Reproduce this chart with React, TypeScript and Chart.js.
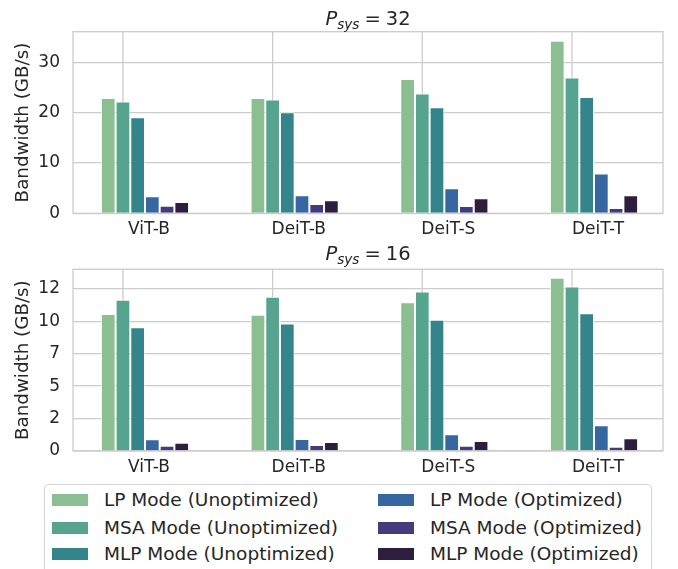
import React, { useEffect, useRef } from 'react';
import { Chart, registerables } from 'chart.js';

Chart.register(...registerables);

const categories = ['ViT-B', 'DeiT-B', 'DeiT-S', 'DeiT-T'];
const seriesNames = [
  'LP Mode (Unoptimized)',
  'MSA Mode (Unoptimized)',
  'MLP Mode (Unoptimized)',
  'LP Mode (Optimized)',
  'MSA Mode (Optimized)',
  'MLP Mode (Optimized)',
];
const seriesColors = ['#8bbe91', '#56a48f', '#33858b', '#3767a0', '#423c7d', '#2d1e3e'];

// P_sys = 32
const lpUnopt32 = [22.9, 22.9, 26.7, 34.3];
const msaUnopt32 = [22.2, 22.6, 23.8, 27.0];
const mlpUnopt32 = [19.1, 20.1, 21.1, 23.1];
const lpOpt32 = [3.4, 3.6, 5.0, 7.9];
const msaOpt32 = [1.5, 1.85, 1.45, 1.05];
const mlpOpt32 = [2.25, 2.6, 3.0, 3.6];

// P_sys = 16
const lpUnopt16 = [10.55, 10.49, 11.47, 13.35];
const msaUnopt16 = [11.65, 11.88, 12.29, 12.68];
const mlpUnopt16 = [9.54, 9.82, 10.11, 10.62];
const lpOpt16 = [0.9, 0.93, 1.29, 1.98];
const msaOpt16 = [0.41, 0.46, 0.41, 0.33];
const mlpOpt16 = [0.64, 0.69, 0.77, 0.98];

const tickValues32 = [0, 10, 20, 30];
const tickLabels32 = ['0', '10', '20', '30'];
const tickValues16 = [0, 2.5, 5, 7.5, 10, 12.5];
const tickLabels16 = ['0', '2', '5', '7', '10', '12'];

const FONT = '"DejaVu Sans", sans-serif';
const TEXT = '#262626';
const GRID = '#cccccc';

const framePlugin = {
  id: 'frameAndVGrid',
  beforeDatasetsDraw(chart: any) {
    const { ctx, chartArea } = chart;
    ctx.save();
    ctx.strokeStyle = GRID;
    ctx.lineWidth = 1.3;
    const meta = chart.getDatasetMeta(1);
    meta.data.forEach((bar: any) => {
      ctx.beginPath();
      ctx.moveTo(bar.x, chartArea.top);
      ctx.lineTo(bar.x, chartArea.bottom);
      ctx.stroke();
    });
    ctx.strokeRect(chartArea.left, chartArea.top, chartArea.right - chartArea.left, chartArea.bottom - chartArea.top);
    ctx.restore();
  },
};

type SubProps = {
  top: number;
  height: number;
  padTop: number;
  xAxisH: number;
  titleTop: number;
  titleValue: string;
  series: number[][];
  yMax: number;
  tickValues: number[];
  tickLabels: string[];
};

function SubChart(p: SubProps) {
  const ref = useRef<HTMLCanvasElement | null>(null);
  useEffect(() => {
    if (!ref.current) return;
    const chart = new Chart(ref.current, {
      type: 'bar',
      data: {
        datasets: p.series.map((vals, k) => ({
          label: seriesNames[k],
          data: vals.map((v, i) => ({ x: i, y: v })),
          backgroundColor: seriesColors[k],
          borderColor: 'rgba(255,255,255,0.8)',
          borderWidth: 1,
          categoryPercentage: 0.589,
          barPercentage: 1,
        })),
      },
      options: {
        responsive: false,
        animation: false,
        devicePixelRatio: 1,
        layout: { padding: { top: p.padTop, right: 15, left: 0, bottom: 0 } },
        plugins: { legend: { display: false }, tooltip: { enabled: false }, title: { display: false } },
        scales: {
          x: {
            type: 'linear',
            offset: false,
            min: -0.481,
            max: 3.461,
            grid: { display: false, drawTicks: false, offset: false },
            border: { display: false },
            afterBuildTicks: (s: any) => {
              s.ticks = categories.map((_, i) => ({ value: i + 0.027 }));
            },
            afterFit: (s: any) => {
              s.height = p.xAxisH;
            },
            ticks: {
              autoSkip: false,
              maxRotation: 0,
              padding: 6.5,
              color: TEXT,
              font: { family: FONT, size: 17 },
              callback: (v: any) => categories[Math.round(v as number)],
            },
          },
          y: {
            type: 'linear',
            min: 0,
            max: p.yMax,
            grid: { color: GRID, lineWidth: 1.3, drawTicks: false },
            border: { display: false },
            afterBuildTicks: (s: any) => {
              s.ticks = p.tickValues.map((v) => ({ value: v }));
            },
            afterFit: (s: any) => {
              s.width = 73;
            },
            ticks: {
              padding: 13,
              color: TEXT,
              font: { family: FONT, size: 17 },
              callback: (v: any) => {
                const idx = p.tickValues.indexOf(v as number);
                return idx >= 0 ? p.tickLabels[idx] : '';
              },
            },
            title: {
              display: true,
              text: 'Bandwidth (GB/s)',
              color: TEXT,
              font: { family: FONT, size: 18.3 },
              padding: { top: 12, bottom: 0 },
            },
          },
        },
      } as any,
      plugins: [framePlugin],
    });
    return () => chart.destroy();
  }, []);
  return (
    <>
      <canvas
        ref={ref}
        width={678}
        height={p.height}
        style={{ position: 'absolute', left: 0, top: p.top, width: 678, height: p.height }}
      />
      <div
        style={{
          position: 'absolute',
          left: 73,
          width: 590,
          top: p.titleTop,
          textAlign: 'center',
          fontSize: 19.5,
          lineHeight: '20px',
          whiteSpace: 'nowrap',
          color: TEXT,
        }}
      >
        <span style={{ fontStyle: 'italic' }}>P</span>
        <span style={{ fontStyle: 'italic', fontSize: 13.6, position: 'relative', top: 3.5 }}>sys</span>
        <span style={{ marginLeft: 5, marginRight: 5 }}>=</span>
        <span>{p.titleValue}</span>
      </div>
    </>
  );
}

function Legend() {
  const rowY = [15, 42.5, 69];
  const cols = [
    { sw: 7, tx: 59 },
    { sw: 333, tx: 385 },
  ];
  return (
    <div
      style={{
        position: 'absolute',
        left: 44,
        top: 484,
        width: 606,
        height: 100,
        border: '1px solid #d5d5d5',
        borderRadius: 4,
        background: '#fff',
      }}
    >
      {seriesNames.map((name, k) => {
        const col = cols[Math.floor(k / 3)];
        const y = rowY[k % 3];
        return (
          <React.Fragment key={name}>
            <div
              style={{
                position: 'absolute',
                left: col.sw,
                top: y - 6,
                width: 36,
                height: 12,
                background: seriesColors[k],
              }}
            />
            <div
              style={{
                position: 'absolute',
                left: col.tx,
                top: y - 10,
                height: 20,
                lineHeight: '20px',
                fontSize: 18.5,
                whiteSpace: 'nowrap',
                color: TEXT,
              }}
            >
              {name}
            </div>
          </React.Fragment>
        );
      })}
    </div>
  );
}

export default function App() {
  return (
    <div
      style={{
        position: 'fixed',
        left: 0,
        top: 0,
        width: 678,
        height: 569,
        overflow: 'hidden',
        background: '#fff',
        fontFamily: FONT,
      }}
    >
      <SubChart
        top={0}
        height={240}
        padTop={31.7}
        xAxisH={26.7}
        titleTop={9}
        titleValue="32"
        series={[lpUnopt32, msaUnopt32, mlpUnopt32, lpOpt32, msaOpt32, mlpOpt32]}
        yMax={36.1}
        tickValues={tickValues32}
        tickLabels={tickLabels32}
      />
      <SubChart
        top={240}
        height={240}
        padTop={29.3}
        xAxisH={29}
        titleTop={244}
        titleValue="16"
        series={[lpUnopt16, msaUnopt16, mlpUnopt16, lpOpt16, msaOpt16, mlpOpt16]}
        yMax={14.0}
        tickValues={tickValues16}
        tickLabels={tickLabels16}
      />
      <Legend />
    </div>
  );
}
